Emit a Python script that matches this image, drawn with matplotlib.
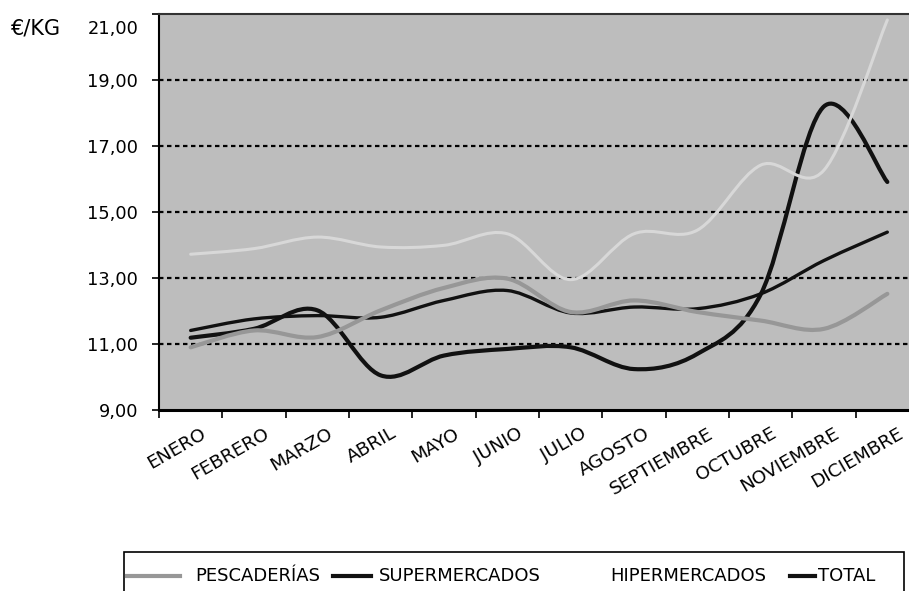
import numpy as np
import matplotlib
matplotlib.use("Agg")
import matplotlib.pyplot as plt
from matplotlib.path import Path
from matplotlib.patches import PathPatch, Rectangle
from matplotlib.lines import Line2D
import matplotlib.transforms as mtransforms

# Data (EUR/kg per month)
months = ["ENERO", "FEBRERO", "MARZO", "ABRIL", "MAYO", "JUNIO", "JULIO",
          "AGOSTO", "SEPTIEMBRE", "OCTUBRE", "NOVIEMBRE", "DICIEMBRE"]
pescaderias = [10.9, 11.41, 11.21, 12.02, 12.7, 12.98, 11.97, 12.32, 11.97, 11.71, 11.46, 12.52]
supermercados = [11.19, 11.46, 12.02, 10.05, 10.65, 10.85, 10.9, 10.24, 10.7, 12.5, 18.2, 15.91]
hipermercados = [13.72, 13.89, 14.24, 13.94, 13.99, 14.34, 12.95, 14.34, 14.45, 16.42, 16.27, 20.82]
total = [11.41, 11.76, 11.86, 11.81, 12.32, 12.62, 11.94, 12.12, 12.07, 12.52, 13.53, 14.39]
yticks = [9, 11, 13, 15, 17, 19, 21]


def smooth_path(xs, ys):
    # Excel-like smoothed line: cubic bezier through every data point
    p = np.column_stack([xs, ys]).astype(float)
    n = len(p)
    verts = [p[0]]
    codes = [Path.MOVETO]
    for i in range(n - 1):
        p0 = p[i - 1] if i > 0 else p[i]
        p3 = p[i + 2] if i + 2 < n else p[i + 1]
        c1 = p[i] + (p[i + 1] - p0) / 6
        c2 = p[i + 1] - (p3 - p[i]) / 6
        verts += [c1, c2, p[i + 1]]
        codes += [Path.CURVE4] * 3
    return Path(verts, codes)


fig = plt.figure(figsize=(9.09, 5.91), dpi=100)
ax = fig.add_axes([159 / 909, 1 - 410 / 591, 760 / 909, 396 / 591])
ax.set_facecolor("#bdbdbd")

x = np.arange(len(months))
series = [
    (supermercados, "#111111", 3.0, 2),
    (total, "#111111", 2.4, 3),
    (pescaderias, "#979797", 3.0, 4),
    (hipermercados, "#d8d8d8", 2.2, 5),
]
for vals, color, lw, z in series:
    ax.add_patch(PathPatch(smooth_path(x, vals), fill=False, edgecolor=color,
                           lw=lw, zorder=z, capstyle="round", joinstyle="round"))

ax.set_xlim(-0.5, len(months) - 0.5)
ax.set_ylim(9, 21)

# dotted gridlines
for v in yticks[1:-1]:
    ax.axhline(v, color="black", lw=1.6, linestyle=(0, (2, 1.6)), zorder=1)

ax.set_yticks(yticks)
ax.set_yticklabels([f"{v:.2f}".replace(".", ",") for v in yticks], fontsize=12.8)
ax.tick_params(axis="y", length=5, width=1.2, pad=10, direction="out")
top_lab = ax.get_yticklabels()[-1]
top_lab.set_transform(top_lab.get_transform() +
                      mtransforms.ScaledTranslation(0, -13 / 100, fig.dpi_scale_trans))

ax.set_xticks(x)
ax.set_xticklabels(months, fontsize=13.3, rotation=30, ha="right",
                   va="center", rotation_mode="anchor")
ax.tick_params(axis="x", length=0, pad=16)
offset = mtransforms.ScaledTranslation(14 / 100, 0, fig.dpi_scale_trans)
for lab in ax.get_xticklabels():
    lab.set_transform(lab.get_transform() + offset)
ax.set_xticks(np.arange(-0.5, len(months)), minor=True)
ax.tick_params(axis="x", which="minor", length=6, width=1.2, direction="out")

ax.spines["left"].set_linewidth(1.5)
ax.spines["bottom"].set_linewidth(2.2)
ax.spines["top"].set_color("#333333")
ax.spines["top"].set_linewidth(1.5)
ax.spines["right"].set_visible(False)

fig.text(11 / 909, 1 - 28 / 591, "€/KG", fontsize=15, va="center", ha="left")

# legend box (bottom cut off, as in the original)
fig.add_artist(Rectangle((124 / 909, -0.05), 780 / 909, 0.05 + 1 - 552 / 591,
                         transform=fig.transFigure, fill=False,
                         edgecolor="black", lw=1.2))
legend_items = [
    ("PESCADERÍAS", "#979797", 127, 180, 195),
    ("SUPERMERCADOS", "#111111", 333, 371, 379),
    ("HIPERMERCADOS", "#ffffff", 565, 600, 610),
    ("TOTAL", "#111111", 790, 815, 818),
]
ly = 1 - 576 / 591
for name, color, h0, h1, tx in legend_items:
    fig.add_artist(Line2D([h0 / 909, h1 / 909], [ly, ly], color=color, lw=3,
                          transform=fig.transFigure))
    fig.text(tx / 909, ly, name, fontsize=13, va="center", ha="left")

fig.savefig("out.png", dpi=100)
